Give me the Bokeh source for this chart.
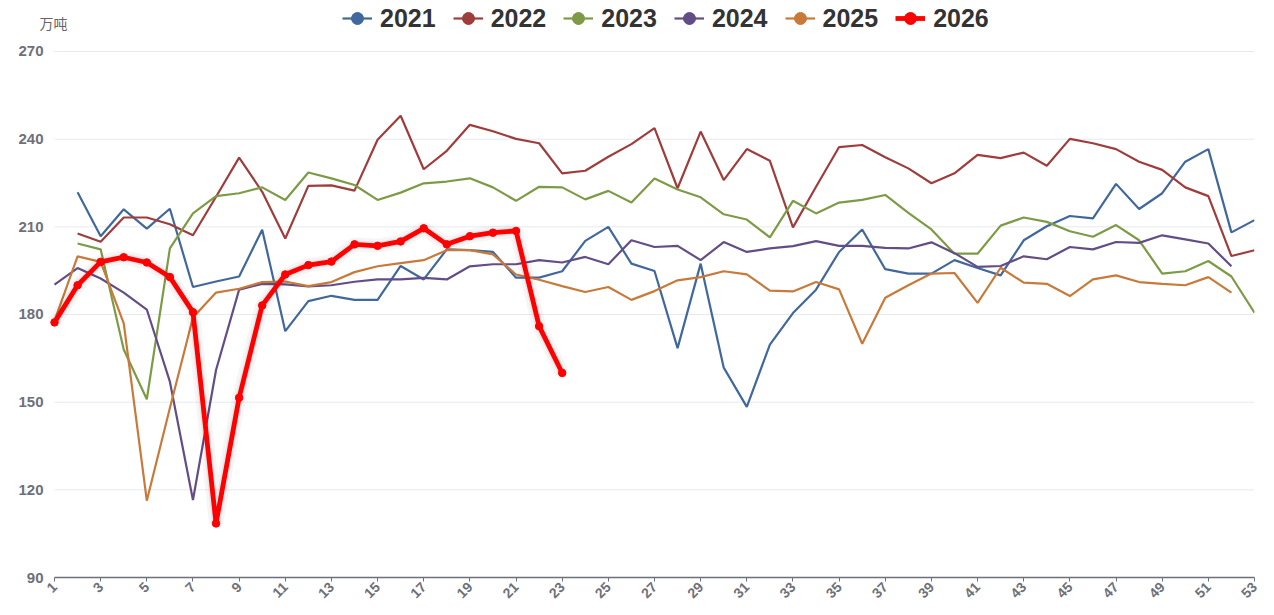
import math
from bokeh.plotting import figure
from bokeh.models import (Legend, LegendItem, FixedTicker, Range1d, Label, ColumnDataSource)
from bokeh.embed import file_html
from bokeh.resources import INLINE

nan = float("nan")
weeks = list(range(1, 54))
years = ["2021", "2022", "2023", "2024", "2025", "2026"]

d2021 = [nan, 221.8, 206.8, 216.0, 209.4, 216.2, 189.4, 191.3, 193.0, 209.0, 174.3, 184.6, 186.4,
         185.0, 185.0, 196.6, 192.0, 202.3, 202.0, 201.4, 192.6, 192.6, 194.8, 205.2, 210.0, 197.4,
         194.9, 168.5, 197.4, 161.8, 148.4, 169.7, 180.5, 188.5, 201.4, 209.1, 195.5, 194.0, 194.0,
         198.6, 195.9, 193.4, 205.4, 210.2, 213.7, 212.9, 224.7, 216.1, 221.5, 232.3, 236.6, 208.1, 212.3]
d2022 = [nan, 207.7, 204.9, 213.2, 213.2, 210.9, 207.1, 220.3, 233.7, 222.0, 206.0, 224.0, 224.2,
         222.4, 239.8, 248.0, 229.7, 236.0, 244.9, 242.7, 240.1, 238.6, 228.3, 229.2, 234.0, 238.3,
         243.8, 223.2, 242.6, 226.0, 236.6, 232.6, 209.8, 223.7, 237.3, 238.0, 233.8, 230.0, 224.9,
         228.3, 234.6, 233.5, 235.4, 230.9, 240.1, 238.6, 236.6, 232.3, 229.5, 223.5, 220.5, 200.0, 202.0]
d2023 = [nan, 204.3, 202.3, 168.0, 151.0, 202.6, 214.6, 220.5, 221.5, 223.5, 219.2, 228.6, 226.6,
         224.3, 219.2, 221.7, 224.9, 225.5, 226.6, 223.5, 218.9, 223.7, 223.5, 219.4, 222.3, 218.3,
         226.5, 222.8, 220.1, 214.3, 212.5, 206.4, 218.9, 214.6, 218.3, 219.2, 220.9, 214.8, 209.1,
         200.8, 200.8, 210.4, 213.2, 211.7, 208.5, 206.6, 210.6, 205.4, 194.0, 194.8, 198.3, 193.0, 180.6]
d2024 = [190.2, 195.9, 192.3, 187.5, 181.7, 157.0, 116.5, 161.0, 188.5, 190.5, 190.3, 189.6, 190.0,
         191.2, 192.0, 192.0, 192.5, 192.0, 196.5, 197.2, 197.2, 198.6, 197.8, 199.7, 197.2, 205.4,
         203.1, 203.5, 198.6, 204.8, 201.4, 202.6, 203.4, 205.1, 203.5, 203.5, 202.8, 202.6, 204.7,
         201.0, 196.3, 196.6, 199.9, 198.9, 203.1, 202.3, 204.8, 204.5, 207.1, 205.7, 204.3, 196.5, nan]
d2025 = [177.8, 199.9, 198.0, 177.0, 116.3, 148.0, 179.0, 187.5, 188.8, 191.1, 191.3, 189.7, 191.1,
         194.5, 196.5, 197.6, 198.6, 202.0, 202.0, 200.6, 193.7, 191.9, 189.7, 187.7, 189.4, 185.0,
         188.0, 191.7, 192.8, 194.8, 193.7, 188.2, 187.9, 191.1, 188.6, 170.0, 185.7, 190.0, 194.0,
         194.2, 184.0, 196.0, 190.9, 190.5, 186.3, 192.0, 193.4, 191.1, 190.5, 190.0, 192.8, 187.5, nan]
d2026 = [177.3, 190.0, 198.0, 199.6, 197.8, 192.8, 180.8, 108.5, 151.5, 183.1, 193.7, 196.9, 198.1,
         204.0, 203.5, 205.0, 209.5, 204.0, 206.8, 208.0, 208.6, 176.0, 160.0]

y_ticks = [90, 120, 150, 180, 210, 240, 270]
x_ticks = list(range(1, 54, 2))
colors = ["#41689c", "#9e3d3b", "#7d9b46", "#634d86", "#c87a3a", "#ff0000"]
unit = "万吨"

FONT = "Liberation Sans"

p = figure(width=1266, height=610, output_backend="svg", toolbar_location=None,
           x_range=Range1d(0.22, 53), y_range=Range1d(90, 287.45),
           min_border_left=36, min_border_right=12, min_border_top=0, min_border_bottom=33)
# range used only for legend-marker renderers (keeps their points out of view)
p.extra_y_ranges = {"legend_only": Range1d(1000, 1001)}
p.outline_line_color = None
p.background_fill_color = "white"
p.xgrid.grid_line_color = None
p.ygrid.grid_line_color = None

# horizontal grid lines spanning only the week range
p.segment(x0=[weeks[0]] * len(y_ticks), x1=[weeks[-1]] * len(y_ticks), y0=y_ticks, y1=y_ticks,
          line_color="#e6e9f2", line_width=1)

p.yaxis.ticker = FixedTicker(ticks=y_ticks)
p.yaxis.axis_line_color = None
p.yaxis.major_tick_line_color = None
p.yaxis.major_tick_out = 0
p.yaxis.major_tick_in = 0
p.yaxis.minor_tick_line_color = None
p.yaxis.major_label_standoff = -7
p.yaxis.major_label_text_font = FONT
p.yaxis.major_label_text_font_style = "bold"
p.yaxis.major_label_text_font_size = "15px"
p.yaxis.major_label_text_color = "#6e7079"

p.xaxis.ticker = FixedTicker(ticks=x_ticks)
p.xaxis.bounds = (weeks[0], weeks[-1])
p.xaxis.axis_line_color = "#6e7079"
p.xaxis.axis_line_width = 1.5
p.xaxis.major_tick_line_color = "#6e7079"
p.xaxis.major_tick_in = 0
p.xaxis.major_tick_out = 4
p.xaxis.minor_tick_line_color = None
p.xaxis.major_label_orientation = math.pi / 4
p.xaxis.major_label_standoff = 3
p.xaxis.major_label_text_font = FONT
p.xaxis.major_label_text_font_style = "bold"
p.xaxis.major_label_text_font_size = "14px"
p.xaxis.major_label_text_color = "#6e7079"

all_series = [d2021, d2022, d2023, d2024, d2025, d2026]
items = []
for yr, data, c in zip(years[:5], all_series[:5], colors[:5]):
    src = ColumnDataSource(dict(x=weeks, y=data))
    r = p.line("x", "y", source=src, line_color=c, line_width=2.2)
    dot = p.scatter("x", "y", source=src, y_range_name="legend_only",
                    marker="circle", size=10, fill_color=c, line_color=c, line_width=1)
    items.append(LegendItem(label=yr, renderers=[r, dot]))

w26 = weeks[:len(d2026)]
p.line(w26, d2026, line_color="black", line_alpha=0.04, line_width=14)
p.line(w26, d2026, line_color="black", line_alpha=0.06, line_width=8)
r26 = p.line(w26, d2026, line_color=colors[5], line_width=4.8)
p.scatter(w26, d2026, marker="circle", size=7.5, fill_color=colors[5], line_color=colors[5])
dot26 = p.scatter(w26, d2026, y_range_name="legend_only", marker="circle", size=10,
                  fill_color=colors[5], line_color=colors[5])
items.append(LegendItem(label="2026", renderers=[r26, dot26]))

legend = Legend(items=items, orientation="horizontal", location=(306, 544),
                label_text_font=FONT, label_text_font_size="25px", label_text_font_style="bold",
                label_text_color="#333333", glyph_width=30, glyph_height=30, label_height=30,
                label_standoff=8, spacing=17, padding=0, margin=0,
                background_fill_alpha=0, border_line_alpha=0)
p.add_layout(legend)

p.add_layout(Label(x=0.35, y=279.6, text=unit, text_font="Noto Sans CJK SC", text_font_size="14px",
                   text_color="#666666", text_baseline="middle", text_align="left"))

open("out.html", "w").write(file_html(p, INLINE))
